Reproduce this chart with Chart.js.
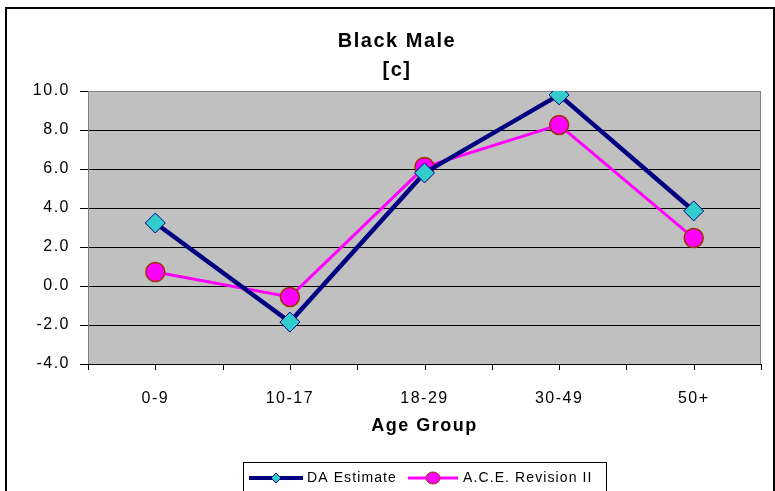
<!DOCTYPE html>
<html>
<head>
<meta charset="utf-8">
<script src="https://cdn.jsdelivr.net/npm/chart.js@4"></script>
<style>
  html, body { margin: 0; padding: 0; background: #fff; }
  #wrap { width: 775px; height: 491px; position: relative; }
</style>
</head>
<body>
<div id="wrap"><canvas id="chart"></canvas></div>
<script>
// Black Male [c] - net error by age group
const ageGroups = ['0-9', '10-17', '18-29', '30-49', '50+'];
const daEstimate = [3.23, -1.85, 5.8, 9.8, 3.85];
const aceRevision = [0.72, -0.56, 6.1, 8.26, 2.46];
const yTicks = [-4, -2, 0, 2, 4, 6, 8, 10];

const FONT = '"Liberation Sans", Arial, sans-serif';
const SPACING = '1.5px';

// the old excel export has wide letter spacing everywhere
const spacingPlugin = {
    id: 'spacing',
    beforeLayout(chart) { chart.ctx.letterSpacing = SPACING; },
    beforeDraw(chart) { chart.ctx.letterSpacing = SPACING; }
};

// grey plot background, outer frame, half-category ticks
const framePlugin = {
    id: 'frame',
    beforeDraw(chart) {
        const ctx = chart.ctx, a = chart.chartArea;
        ctx.save();
        ctx.strokeStyle = '#000';
        ctx.lineWidth = 2;
        ctx.strokeRect(6, 8, 768, 500);
        ctx.fillStyle = '#c0c0c0';
        ctx.fillRect(a.left, a.top, a.right - a.left, a.bottom - a.top);
        ctx.restore();
    },
    beforeDatasetsDraw(chart) {
        const ctx = chart.ctx, a = chart.chartArea;
        ctx.save();
        ctx.strokeStyle = '#808080';
        ctx.lineWidth = 1;
        ctx.strokeRect(a.left + 0.5, a.top + 0.5, a.right - a.left - 1, a.bottom - a.top);
        ctx.strokeStyle = '#000';
        ctx.beginPath();
        ctx.moveTo(a.left, a.bottom + 0.5);
        ctx.lineTo(a.right, a.bottom + 0.5);
        const step = (a.right - a.left) / ageGroups.length;
        for (let i = 0; i <= ageGroups.length * 2; i++) {
            const px = Math.round(a.left + i * step / 2) + 0.5;
            ctx.moveTo(px, a.bottom);
            ctx.lineTo(px, a.bottom + 6);
        }
        ctx.stroke();
        ctx.restore();
    }
};

// legend box like the original (line + marker samples)
const legendPlugin = {
    id: 'boxLegend',
    afterDraw(chart) {
        const ctx = chart.ctx;
        const bx = 243, by = 462, bw = 363, bh = 40;
        ctx.save();
        ctx.fillStyle = '#fff';
        ctx.fillRect(bx, by, bw, bh);
        ctx.strokeStyle = '#000';
        ctx.lineWidth = 1;
        ctx.strokeRect(bx + 0.5, by + 0.5, bw, bh);
        const cy = 478;
        // DA Estimate
        ctx.strokeStyle = '#000080';
        ctx.lineWidth = 4;
        ctx.beginPath(); ctx.moveTo(249, cy); ctx.lineTo(303, cy); ctx.stroke();
        ctx.fillStyle = '#33cccc';
        ctx.lineWidth = 1;
        ctx.beginPath();
        ctx.moveTo(276, cy - 5); ctx.lineTo(281, cy); ctx.lineTo(276, cy + 5); ctx.lineTo(271, cy);
        ctx.closePath(); ctx.fill(); ctx.stroke();
        // A.C.E. Revision II
        ctx.strokeStyle = '#ff00ff';
        ctx.lineWidth = 3;
        ctx.beginPath(); ctx.moveTo(408, cy); ctx.lineTo(458, cy); ctx.stroke();
        ctx.fillStyle = '#ff00ff';
        ctx.strokeStyle = '#993300';
        ctx.lineWidth = 1;
        ctx.beginPath(); ctx.ellipse(433, cy, 7, 6, 0, 0, Math.PI * 2); ctx.fill(); ctx.stroke();
        ctx.fillStyle = '#000';
        ctx.font = '14px ' + FONT;
        ctx.letterSpacing = '1.1px';
        ctx.textBaseline = 'middle';
        ctx.fillText('DA Estimate', 307, cy);
        ctx.fillText('A.C.E. Revision II', 463, cy);
        ctx.restore();
    }
};

new Chart(document.getElementById('chart'), {
    type: 'line',
    data: {
        labels: ageGroups,
        datasets: [{
            label: 'DA Estimate',
            data: daEstimate,
            borderColor: '#000080',
            borderWidth: 4.5,
            pointStyle: 'rectRot',
            pointRadius: 10,
            pointBackgroundColor: '#33cccc',
            pointBorderColor: '#000080',
            pointBorderWidth: 1,
            tension: 0
        }, {
            label: 'A.C.E. Revision II',
            data: aceRevision,
            borderColor: '#ff00ff',
            borderWidth: 3,
            pointStyle: 'circle',
            pointRadius: 9.5,
            pointBackgroundColor: '#ff00ff',
            pointBorderColor: '#993300',
            pointBorderWidth: 1.5,
            tension: 0
        }]
    },
    options: {
        responsive: true,
        maintainAspectRatio: false,
        animation: false,
        devicePixelRatio: 1,
        layout: { padding: { left: 33, right: 14, top: 0, bottom: 51 } },
        plugins: {
            legend: { display: false },
            tooltip: { enabled: false },
            title: {
                display: true,
                text: ['Black Male', '[c]'],
                color: '#000',
                font: { family: FONT, size: 20, weight: 'bold', lineHeight: 1.45 },
                padding: { top: 27, bottom: 6 }
            }
        },
        scales: {
            x: {
                offset: true,
                grid: { display: false },
                border: { display: false },
                ticks: { color: '#000', font: { family: FONT, size: 16 }, padding: 17, maxRotation: 0 },
                title: {
                    display: true,
                    text: 'Age Group',
                    color: '#000',
                    font: { family: FONT, size: 18, weight: 'bold' },
                    padding: { top: 8, bottom: 3 }
                },
                afterFit(scale) { scale.height = 76; }
            },
            y: {
                min: -4,
                max: 10,
                afterBuildTicks(scale) { scale.ticks = yTicks.map(v => ({ value: v })); },
                grid: { color: '#000', lineWidth: 1, tickLength: 8, drawTicks: true },
                border: { display: true, color: '#000' },
                ticks: {
                    color: '#000',
                    font: { family: FONT, size: 16 },
                    padding: 10,
                    callback: v => v.toFixed(1)
                },
                afterFit(scale) { scale.width = 55; }
            }
        }
    },
    plugins: [spacingPlugin, framePlugin, legendPlugin]
});
</script>
</body>
</html>
